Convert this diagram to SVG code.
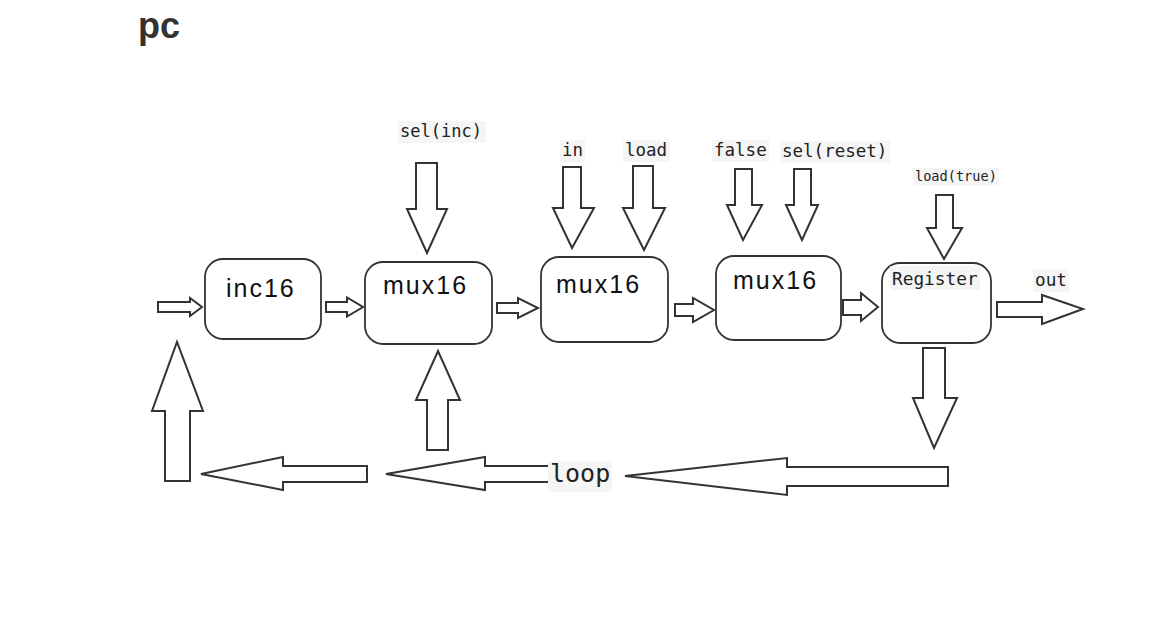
<svg xmlns="http://www.w3.org/2000/svg" width="1163" height="631" viewBox="0 0 1163 631">
<style>
.box{fill:#fff;stroke:#333;stroke-width:1.8}
.arr{fill:#fff;stroke:#333;stroke-width:2;stroke-linejoin:miter}
.bt{font-family:"Liberation Sans",Arial,sans-serif;font-size:25px;letter-spacing:2px;fill:#111}
.lbl{font-family:"DejaVu Sans Mono",monospace;fill:#222}
.bg{fill:#f5f5f5}
</style>
<rect width="1163" height="631" fill="#fff"/>
<text x="138" y="38" font-family="Liberation Sans,Arial,sans-serif" font-weight="bold" font-size="36" fill="#333">pc</text>

<g id="connectors">
<polygon class="arr" points="158,302 190,302 190,298 202,307 190,316 190,312 158,312"/>
<polygon class="arr" points="326,302 347,302 347,297.5 363,307 347,316.5 347,312 326,312"/>
<polygon class="arr" points="497,303 518,303 518,298 538,308 518,318 518,313 497,313"/>
<polygon class="arr" points="675,304 693,304 693,298 714,310 693,322 693,316 675,316"/>
<polygon class="arr" points="843,300 861,300 861,293 878,307 861,321 861,315 843,315"/>
<polygon class="arr" points="997,302 1042,302 1042,295 1083,309 1042,324 1042,317 997,317"/>

<polygon class="arr" points="416,163 437,163 437,209 447,209 427,253 407,209 416,209"/>
<polygon class="arr" points="563,167 581,167 581,208 594,208 572,248 553,208 563,208"/>
<polygon class="arr" points="633,166 653,166 653,208 665,208 644,250 623,208 633,208"/>
<polygon class="arr" points="735,169 752,169 752,205 762,205 743,240 727,205 735,205"/>
<polygon class="arr" points="794,169 811,169 811,205 818,205 802,240 786,205 794,205"/>
<polygon class="arr" points="936,195 953,195 953,228 962,228 944,259 927,228 936,228"/>
<polygon class="arr" points="923,348 945,348 945,398 957,398 934,448 913,398 923,398"/>

<polygon class="arr" points="165,481 190,481 190,411 203,411 177,342 152,411 165,411"/>
<polygon class="arr" points="427,450 448,450 448,400 460,400 438,351 416,400 427,400"/>

<polygon class="arr" points="367,466 283,466 283,457 201,474 283,490 283,482 367,482"/>
<polygon class="arr" points="549,466 485,466 485,457 386,474 485,490 485,482 549,482"/>
<polygon class="arr" points="948,467 787,467 787,458 625,476 787,495 787,486 948,486"/>
</g>

<g id="inc16"><rect class="box" x="205" y="259" width="116" height="80" rx="18"/><text class="bt" x="226" y="297">inc16</text></g>
<g id="mux16a"><rect class="box" x="365" y="262" width="127" height="82" rx="18"/><text class="bt" x="383" y="294">mux16</text></g>
<g id="mux16b"><rect class="box" x="541" y="257" width="127" height="85" rx="18"/><text class="bt" x="556" y="293">mux16</text></g>
<g id="mux16c"><rect class="box" x="716" y="256" width="125" height="84" rx="18"/><text class="bt" x="733" y="289">mux16</text></g>
<g id="register"><rect class="box" x="882" y="263" width="109" height="80" rx="18"/>
<rect class="bg" x="890" y="266" width="90" height="24"/>
<text class="lbl" x="892" y="285" font-size="17.8">Register</text></g>

<g id="labels">
<rect class="bg" x="398" y="121" width="88" height="22"/>
<text class="lbl" x="400" y="137" font-size="17">sel(inc)</text>
<rect class="bg" x="560" y="140" width="25" height="22"/>
<text class="lbl" x="562" y="156" font-size="17.5">in</text>
<rect class="bg" x="623" y="140" width="47" height="22"/>
<text class="lbl" x="625" y="156" font-size="17.5">load</text>
<rect class="bg" x="712" y="140" width="57" height="22"/>
<text class="lbl" x="714" y="156" font-size="17.5">false</text>
<rect class="bg" x="780" y="141" width="110" height="22"/>
<text class="lbl" x="782" y="157" font-size="17.5">sel(reset)</text>
<rect class="bg" x="913" y="168" width="86" height="18"/>
<text class="lbl" x="915" y="181" font-size="13.6">load(true)</text>
<rect class="bg" x="1033" y="269" width="36" height="23"/>
<text class="lbl" x="1035" y="286" font-size="17.7">out</text>
<rect class="bg" x="548" y="461" width="64" height="31"/>
<text class="lbl" x="550" y="482" font-size="25">loop</text>
</g>
</svg>
